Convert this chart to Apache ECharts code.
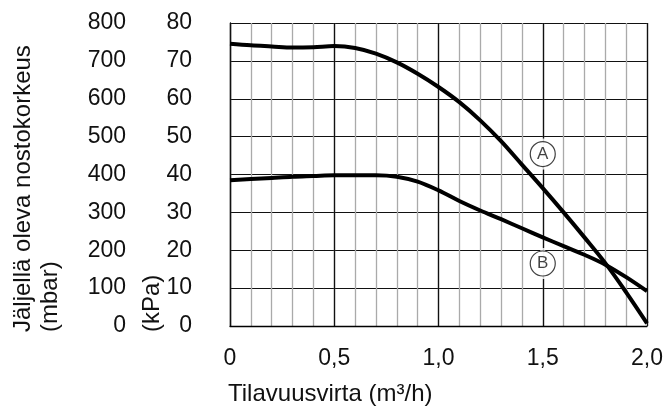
<!DOCTYPE html>
<html>
<head>
<meta charset="utf-8">
<script src="https://cdn.jsdelivr.net/npm/echarts@6/dist/echarts.min.js"></script>
<style>
  html, body { margin: 0; padding: 0; background: #fff; }
  #main { width: 666px; height: 409px; }
</style>
</head>
<body>
<div id="main"></div>
<script>
// flow rate (m³/h)
var flow = [0, 0.1, 0.2, 0.3, 0.4, 0.5, 0.6, 0.7, 0.8, 0.9, 1.0,
            1.1, 1.2, 1.3, 1.4, 1.5, 1.6, 1.7, 1.8, 1.9, 2.0]
// remaining head (kPa)
var headA = [74.5, 74.1, 73.8, 73.5, 73.6, 73.9, 73.4, 71.9, 69.6, 66.6, 63.1,
             59.1, 54.3, 48.8, 42.6, 36.4, 30.0, 23.4, 16.6, 8.9, 0.7]
var headB = [38.5, 38.8, 39.1, 39.4, 39.6, 39.8, 39.8, 39.8, 39.4, 38.1, 35.8,
             33.0, 30.5, 28.2, 25.8, 23.4, 21.1, 18.8, 16.2, 12.9, 9.2]
// curve tags
var tagNames = ['A', 'B']
var tagX = [1.5, 1.5]
var tagY = [45.4, 16.5]

function pairs(xs, ys) {
  return xs.map(function (x, i) { return [x, ys[i]] })
}

var font = 'Liberation Sans, Arial, sans-serif'
var myChart = echarts.init(document.getElementById('main'))

var option = {
  animation: false,
  grid: { left: 230, right: 18, top: 23, bottom: 83 },
  xAxis: [
    {
      type: 'value', min: 0, max: 2, interval: 0.5, z: 2,
      axisLine: { show: true, lineStyle: { color: '#000', width: 1.3 } },
      axisTick: { show: false },
      axisLabel: {
        margin: 21, color: '#111', fontSize: 23, fontFamily: font,
        formatter: function (v) { return v === 0 ? '0' : v.toFixed(1).replace('.', ',') }
      },
      splitLine: { show: true, lineStyle: { color: '#111', width: 1.3 } }
    },
    {
      // minor grid every 0.1
      type: 'value', min: 0, max: 2, interval: 0.1, position: 'bottom', z: 0,
      axisLine: { show: false }, axisTick: { show: false }, axisLabel: { show: false },
      splitLine: { show: true, lineStyle: { color: '#aaa', width: 1.3 } }
    }
  ],
  yAxis: [
    {
      type: 'value', min: 0, max: 80, interval: 10,
      axisLine: { show: true, lineStyle: { color: '#000', width: 1.3 } },
      axisTick: { show: false },
      axisLabel: { margin: 38, color: '#111', fontSize: 23, fontFamily: font },
      splitLine: { show: true, lineStyle: { color: '#111', width: 1.2 } }
    },
    {
      type: 'value', min: 0, max: 800, interval: 100, position: 'left', offset: 96,
      axisLine: { show: false }, axisTick: { show: false },
      axisLabel: { margin: 8, color: '#111', fontSize: 23, fontFamily: font },
      splitLine: { show: false }
    }
  ],
  graphic: [
    {
      type: 'text', x: 10, y: 332, rotation: Math.PI / 2,
      style: {
        text: 'Jäljellä oleva nostokorkeus\n(mbar)', fill: '#111',
        font: '24px ' + font, lineHeight: 27, align: 'left', verticalAlign: 'top'
      }
    },
    {
      type: 'text', x: 139, y: 332, rotation: Math.PI / 2,
      style: {
        text: '(kPa)', fill: '#111',
        font: '24px ' + font, lineHeight: 27, align: 'left', verticalAlign: 'top'
      }
    },
    {
      type: 'text', x: 228, y: 382,
      style: {
        text: 'Tilavuusvirta (m³/h)', fill: '#111',
        font: '24px ' + font, align: 'left', verticalAlign: 'top'
      }
    }
  ],
  series: [
    {
      name: 'A', type: 'line', smooth: 0.35, showSymbol: false, z: 3,
      lineStyle: { color: '#000', width: 4 },
      data: pairs(flow, headA)
    },
    {
      name: 'B', type: 'line', smooth: 0.35, showSymbol: false, z: 3,
      lineStyle: { color: '#000', width: 4 },
      data: pairs(flow, headB)
    },
    {
      // white gap in the vertical grid line around each tag
      type: 'scatter', symbol: 'rect', symbolSize: [5, 31], z: 4, silent: true,
      itemStyle: { color: '#fff' },
      data: pairs(tagX, tagY)
    },
    {
      type: 'scatter', symbol: 'circle', symbolSize: 25, z: 5, silent: true,
      itemStyle: { color: '#fff', borderColor: '#111', borderWidth: 1.2 },
      label: {
        show: true, position: 'inside', color: '#111', fontSize: 17, fontFamily: font,
        formatter: function (p) { return tagNames[p.dataIndex] }
      },
      data: pairs(tagX, tagY)
    }
  ]
}
option && myChart.setOption(option)
</script>
</body>
</html>
